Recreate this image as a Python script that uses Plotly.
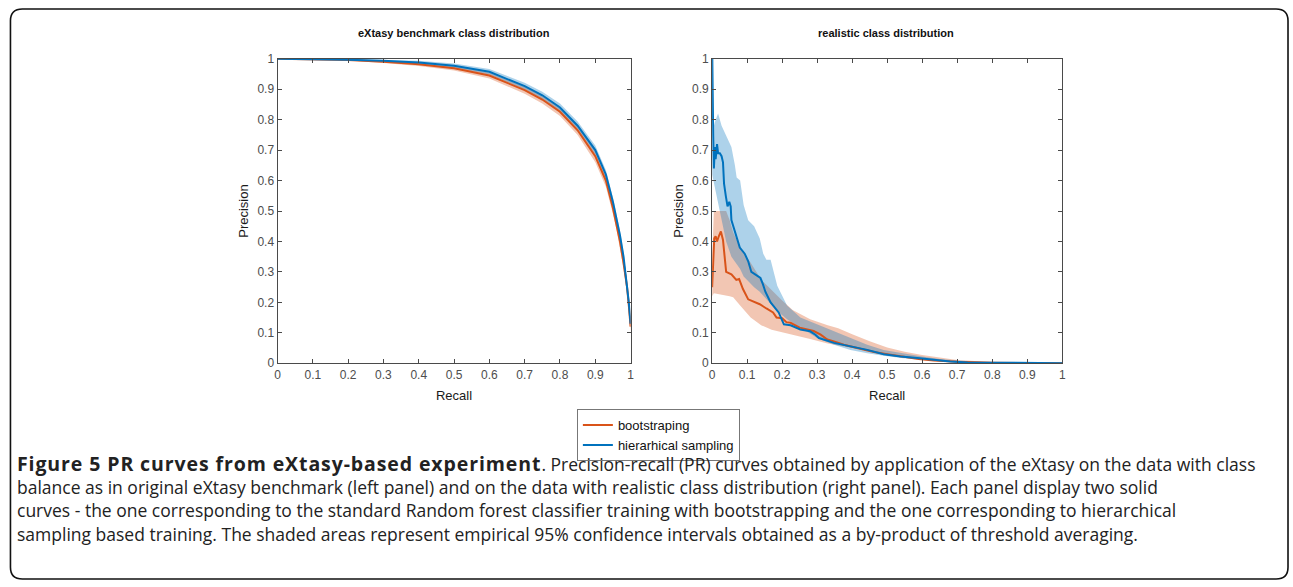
import plotly.graph_objects as go

W, H = 1293, 587

# ---------------- data ----------------
# left panel: eXtasy benchmark class distribution
left_recall = [0, 0.1, 0.2, 0.3, 0.4, 0.5, 0.6, 0.7, 0.75, 0.8, 0.85, 0.9, 0.93, 0.95, 0.96, 0.97, 0.98, 0.99, 0.995, 1.0]
left_boot = [1.0, 0.999, 0.996, 0.99, 0.982, 0.969, 0.945, 0.897, 0.866, 0.826, 0.765, 0.68, 0.60, 0.51, 0.46, 0.40, 0.33, 0.25, 0.19, 0.12]
left_boot_lo = [1.0, 0.998, 0.994, 0.986, 0.976, 0.961, 0.935, 0.885, 0.853, 0.812, 0.75, 0.66, 0.58, 0.49, 0.44, 0.38, 0.31, 0.23, 0.17, 0.10]
left_boot_hi = [1.0, 1.0, 0.998, 0.994, 0.987, 0.976, 0.954, 0.908, 0.878, 0.839, 0.779, 0.70, 0.62, 0.53, 0.48, 0.42, 0.35, 0.27, 0.21, 0.14]
left_hier = [1.0, 0.999, 0.997, 0.993, 0.988, 0.977, 0.957, 0.91, 0.88, 0.84, 0.78, 0.70, 0.62, 0.53, 0.48, 0.42, 0.35, 0.26, 0.2, 0.13]
left_hier_lo = [1.0, 0.998, 0.995, 0.989, 0.982, 0.970, 0.948, 0.899, 0.868, 0.827, 0.766, 0.685, 0.605, 0.515, 0.465, 0.405, 0.335, 0.245, 0.185, 0.115]
left_hier_hi = [1.0, 1.0, 0.999, 0.996, 0.993, 0.984, 0.966, 0.921, 0.892, 0.853, 0.794, 0.715, 0.635, 0.545, 0.495, 0.435, 0.365, 0.275, 0.215, 0.145]

# right panel: realistic class distribution
right_boot_recall = [0, 0.003, 0.006, 0.01, 0.014, 0.019, 0.025, 0.031, 0.036, 0.04, 0.055, 0.069, 0.077, 0.088,
                     0.103, 0.117, 0.136, 0.155, 0.174, 0.184, 0.2, 0.212, 0.224, 0.25, 0.29, 0.31, 0.329, 0.348,
                     0.376, 0.414, 0.462, 0.5, 0.54, 0.59, 0.633, 0.7, 0.8, 0.87, 0.95, 1.0]
right_boot = [0.25, 0.32, 0.41, 0.417, 0.40, 0.417, 0.433, 0.405, 0.35, 0.30, 0.292, 0.274, 0.277, 0.244,
              0.21, 0.203, 0.194, 0.18, 0.167, 0.15, 0.148, 0.135, 0.133, 0.117, 0.106, 0.094, 0.078, 0.072,
              0.061, 0.05, 0.037, 0.03, 0.022, 0.014, 0.009, 0.005, 0.002, 0.001, 0.0005, 0.0]
right_boot_band_recall = [0, 0.005, 0.02, 0.04, 0.05, 0.06, 0.08, 0.11, 0.14, 0.17, 0.2, 0.23, 0.28, 0.33,
                          0.36, 0.4, 0.45, 0.5, 0.55, 0.6, 0.65, 0.7, 0.8, 0.9, 1.0]
right_boot_hi = [0.35, 0.5, 0.5, 0.5, 0.47, 0.43, 0.38, 0.33, 0.275, 0.24, 0.206, 0.175, 0.145, 0.125,
                 0.115, 0.095, 0.072, 0.052, 0.038, 0.027, 0.018, 0.011, 0.004, 0.002, 0.0]
right_boot_lo = [0.22, 0.23, 0.228, 0.222, 0.22, 0.217, 0.19, 0.15, 0.125, 0.11, 0.1, 0.094, 0.08, 0.065,
                 0.058, 0.05, 0.04, 0.03, 0.022, 0.015, 0.01, 0.006, 0.002, 0.0005, 0.0]

right_hier_recall = [0, 0.0005, 0.003, 0.005, 0.008, 0.01, 0.014, 0.017, 0.022, 0.027, 0.031, 0.034, 0.039,
                     0.044, 0.049, 0.053, 0.055, 0.065, 0.079, 0.093, 0.103, 0.112, 0.127, 0.138, 0.145, 0.152,
                     0.167, 0.19, 0.205, 0.224, 0.252, 0.28, 0.295, 0.305, 0.348, 0.395, 0.443, 0.49, 0.538,
                     0.586, 0.633, 0.68, 0.73, 0.8, 0.9, 1.0]
right_hier = [1.0, 1.0, 0.75, 0.64, 0.71, 0.67, 0.72, 0.69, 0.69, 0.68, 0.66, 0.59, 0.55,
              0.515, 0.53, 0.515, 0.47, 0.43, 0.38, 0.36, 0.335, 0.30, 0.29, 0.28, 0.26, 0.235,
              0.20, 0.167, 0.128, 0.125, 0.111, 0.105, 0.094, 0.083, 0.067, 0.056, 0.044, 0.03, 0.022,
              0.017, 0.011, 0.006, 0.003, 0.002, 0.001, 0.0]
right_hier_band_recall = [0, 0.005, 0.01, 0.017, 0.027, 0.04, 0.055, 0.065, 0.07, 0.08, 0.09, 0.103, 0.12,
                          0.136, 0.146, 0.155, 0.167, 0.186, 0.214, 0.252, 0.3, 0.348, 0.395, 0.443, 0.49,
                          0.54, 0.6, 0.65, 0.7, 0.8, 0.9, 1.0]
right_hier_hi = [1.0, 0.78, 0.80, 0.82, 0.78, 0.75, 0.71, 0.65, 0.61, 0.60, 0.52, 0.47, 0.45,
                 0.41, 0.36, 0.34, 0.34, 0.255, 0.19, 0.15, 0.128, 0.106, 0.083, 0.061, 0.044,
                 0.033, 0.022, 0.014, 0.009, 0.003, 0.001, 0.0]
right_hier_lo = [0.62, 0.6, 0.57, 0.53, 0.47, 0.40, 0.35, 0.335, 0.325, 0.31, 0.285, 0.27, 0.25,
                 0.235, 0.222, 0.21, 0.195, 0.172, 0.145, 0.117, 0.083, 0.061, 0.044, 0.033, 0.025,
                 0.017, 0.011, 0.007, 0.004, 0.001, 0.0, 0.0]

tick_vals = [0, 0.1, 0.2, 0.3, 0.4, 0.5, 0.6, 0.7, 0.8, 0.9, 1]
tick_text = ["0", "0.1", "0.2", "0.3", "0.4", "0.5", "0.6", "0.7", "0.8", "0.9", "1"]
series_names = ["bootstraping", "hierarhical sampling"]
panel_titles = ["eXtasy benchmark class distribution", "realistic class distribution"]

# ---------------- style ----------------
ORANGE = "#D95319"
BLUE = "#0072BD"
ORANGE_FILL = "rgba(217,83,25,0.33)"
BLUE_FILL = "rgba(0,114,189,0.32)"
FONT = "Arial, 'Liberation Sans', sans-serif"

fig = go.Figure()


def band(x, lo, hi, fill, xa, ya):
    fig.add_trace(go.Scatter(
        x=list(x) + list(x)[::-1], y=list(hi) + list(lo)[::-1],
        fill="toself", fillcolor=fill, line=dict(width=0), mode="lines",
        hoverinfo="skip", showlegend=False, xaxis=xa, yaxis=ya))


def curve(x, y, color, name, xa, ya, show):
    fig.add_trace(go.Scatter(
        x=x, y=y, mode="lines", line=dict(color=color, width=2),
        name=name, showlegend=show, xaxis=xa, yaxis=ya))


band(left_recall, left_boot_lo, left_boot_hi, ORANGE_FILL, "x", "y")
band(left_recall, left_hier_lo, left_hier_hi, BLUE_FILL, "x", "y")
curve(left_recall, left_boot, ORANGE, series_names[0], "x", "y", True)
curve(left_recall, left_hier, BLUE, series_names[1], "x", "y", True)

band(right_boot_band_recall, right_boot_lo, right_boot_hi, ORANGE_FILL, "x2", "y2")
band(right_hier_band_recall, right_hier_lo, right_hier_hi, BLUE_FILL, "x2", "y2")
curve(right_boot_recall, right_boot, ORANGE, series_names[0], "x2", "y2", False)
curve(right_hier_recall, right_hier, BLUE, series_names[1], "x2", "y2", False)

# pixel geometry of plot areas
LX0, LX1 = 276, 631
RX0, RX1 = 713, 1065
PY0, PY1 = 53, 365


def px(x):
    return x / W


def py(y):
    return 1 - y / H


axis_common = dict(
    range=[0, 1], tickvals=tick_vals, ticktext=tick_text,
    showgrid=False, zeroline=False, showline=True, linecolor="#4a4a4a", linewidth=1,
    mirror="ticks", ticks="inside", ticklen=4, tickcolor="#4a4a4a",
    tickfont=dict(family=FONT, size=12, color="#4d4d4d"),
    fixedrange=True,
)
title_font = dict(family=FONT, size=13, color="#1a1a1a")

fig.update_layout(
    width=W, height=H,
    margin=dict(l=0, r=0, t=0, b=0),
    paper_bgcolor="white", plot_bgcolor="white",
    font=dict(family=FONT),
    xaxis=dict(domain=[px(LX0), px(LX1)], anchor="y",
               title=dict(text="Recall", standoff=10, font=title_font), **axis_common),
    yaxis=dict(domain=[py(PY1), py(PY0)], anchor="x",
               title=dict(text="Precision", standoff=5, font=title_font), **axis_common),
    xaxis2=dict(domain=[px(RX0), px(RX1)], anchor="y2",
                title=dict(text="Recall", standoff=10, font=title_font), **axis_common),
    yaxis2=dict(domain=[py(PY1), py(PY0)], anchor="x2",
                title=dict(text="Precision", standoff=5, font=title_font), **axis_common),
    legend=dict(x=px(577), y=py(412), xanchor="left", yanchor="top",
                bgcolor="white", bordercolor="#777777", borderwidth=1,
                font=dict(family=FONT, size=13, color="#111111"),
                itemwidth=30, tracegroupgap=0),
    showlegend=True,
)

# panel titles
for t, cx in zip(panel_titles, [453, 888]):
    fig.add_annotation(text="<b>" + t + "</b>", x=px(cx), y=py(27),
                       xref="paper", yref="paper", xanchor="center", yanchor="middle",
                       showarrow=False, font=dict(family=FONT, size=11, color="#111111"))

# caption
caption_lines = [
    "<b><span style='font-size:19.5px;letter-spacing:0.9px'>Figure 5 PR curves from eXtasy-based experiment</span></b>. Precision-recall (PR) curves obtained by application of the eXtasy on the data with class",
    "balance as in original eXtasy benchmark (left panel) and on the data with realistic class distribution (right panel). Each panel display two solid",
    "curves - the one corresponding to the standard Random forest classifier training with bootstrapping and the one corresponding to hierarchical",
    "sampling based training. The shaded areas represent empirical 95% confidence intervals obtained as a by-product of threshold averaging.",
]
caption_y = [467.5, 492, 515.5, 539.5]
for line, yy in zip(caption_lines, caption_y):
    fig.add_annotation(text=line, x=px(12), y=py(yy), xref="paper", yref="paper",
                       xanchor="left", yanchor="middle", showarrow=False,
                       font=dict(family="'Open Sans', sans-serif", size=17.5, color="#222222"))

# rounded outer border
bx0, bx1, byt, byb, r = 7.5, 1292, 2, 586, 12
path = (f"M {px(bx0 + r)},{py(byt)} L {px(bx1 - r)},{py(byt)} "
        f"Q {px(bx1)},{py(byt)} {px(bx1)},{py(byt + r)} "
        f"L {px(bx1)},{py(byb - r)} Q {px(bx1)},{py(byb)} {px(bx1 - r)},{py(byb)} "
        f"L {px(bx0 + r)},{py(byb)} Q {px(bx0)},{py(byb)} {px(bx0)},{py(byb - r)} "
        f"L {px(bx0)},{py(byt + r)} Q {px(bx0)},{py(byt)} {px(bx0 + r)},{py(byt)} Z")
fig.add_shape(type="path", path=path, xref="paper", yref="paper",
              line=dict(color="#111111", width=1.6), fillcolor="rgba(0,0,0,0)")

# remove the default page margin so the figure fills the window exactly
fig.write_html("out.html",
               config={"displayModeBar": False},
               post_script="document.body.style.margin='0';document.body.style.overflow='hidden';")
